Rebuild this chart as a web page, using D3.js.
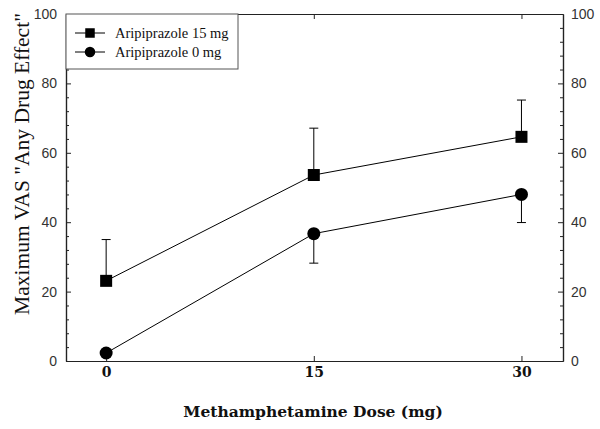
<!DOCTYPE html>
<html>
<head>
<meta charset="utf-8">
<script src="https://cdn.jsdelivr.net/npm/d3@7"></script>
<style>
  body { margin: 0; background: #fff; }
  svg { display: block; }
</style>
</head>
<body>
<svg id="chart" width="600" height="429"></svg>
<script>
// ---- data ----
const doses = [0, 15, 30];
const aripi15 = [23.1, 53.6, 64.6];
const aripi15Err = [11.9, 13.5, 10.6];
const aripi0 = [2.3, 36.7, 48.0];
const aripi0Err = [0, 8.5, 8.1];
const yMajorTicks = [0, 20, 40, 60, 80, 100];
const yMinorTicks = [4, 8, 12, 16, 24, 28, 32, 36, 44, 48, 52, 56, 64, 68, 72, 76, 84, 88, 92, 96];
const seriesNames = ["Aripiprazole 15 mg", "Aripiprazole 0 mg"];
const xTitle = "Methamphetamine Dose (mg)";
const yTitle = 'Maximum VAS "Any Drug Effect"';

// ---- layout ----
const L = 66, R = 563, T = 14, B = 361;
const svg = d3.select("#chart");
const x = d3.scaleLinear().domain([-2.9, 33]).range([L, R]);
const y = d3.scaleLinear().domain([0, 100]).range([B, T]);

const axisColor = "#222";
function styleAxis(g) {
  g.select(".domain").attr("stroke", axisColor).attr("stroke-width", 1.2);
  g.selectAll(".tick line").attr("stroke", axisColor).attr("stroke-width", 1);
}

// minor ticks
svg.append("g").attr("transform", `translate(${L},0)`)
  .call(d3.axisLeft(y).tickValues(yMinorTicks).tickSize(-3).tickSizeOuter(0).tickFormat(""))
  .call(styleAxis);
svg.append("g").attr("transform", `translate(${R},0)`)
  .call(d3.axisRight(y).tickValues(yMinorTicks).tickSize(-3).tickSizeOuter(0).tickFormat(""))
  .call(styleAxis);

// major y
const yl = svg.append("g").attr("transform", `translate(${L},0)`)
  .call(d3.axisLeft(y).tickValues(yMajorTicks).tickSize(-5).tickSizeOuter(0).tickPadding(9))
  .call(styleAxis);
const yr = svg.append("g").attr("transform", `translate(${R},0)`)
  .call(d3.axisRight(y).tickValues(yMajorTicks).tickSize(-5).tickSizeOuter(0).tickPadding(8))
  .call(styleAxis);
[yl, yr].forEach(g => g.selectAll(".tick text")
  .attr("font-family", "Liberation Sans, Arial, sans-serif")
  .attr("font-size", 14).attr("fill", "#333"));

// x axes
const xb = svg.append("g").attr("transform", `translate(0,${B})`)
  .call(d3.axisBottom(x).tickValues(doses).tickSize(-5).tickSizeOuter(0).tickPadding(6))
  .call(styleAxis);
xb.selectAll(".tick text")
  .attr("font-family", "DejaVu Serif, Georgia, serif")
  .attr("font-weight", "bold").attr("font-size", 14).attr("fill", "#111");
svg.append("g").attr("transform", `translate(0,${T})`)
  .call(d3.axisTop(x).tickValues(doses).tickSize(-5).tickSizeOuter(0).tickFormat(""))
  .call(styleAxis);

// titles
svg.append("text")
  .attr("x", 313).attr("y", 417)
  .attr("text-anchor", "middle")
  .attr("font-family", "DejaVu Serif, Georgia, serif")
  .attr("font-weight", "bold").attr("font-size", 15.5).attr("fill", "#111")
  .text(xTitle);
svg.append("text")
  .attr("transform", "translate(29,164) rotate(-90)")
  .attr("text-anchor", "middle")
  .attr("font-family", "Liberation Serif, Times New Roman, serif")
  .attr("font-size", 21.5).attr("fill", "#111")
  .text(yTitle);

// series
const series = [
  { name: seriesNames[0], vals: aripi15, err: aripi15Err, dir: 1, shape: "square" },
  { name: seriesNames[1], vals: aripi0, err: aripi0Err, dir: -1, shape: "circle" }
];
const line = d3.line().x(d => x(d[0])).y(d => y(d[1]));

function drawMarker(g, shape, cx, cy, size) {
  if (shape === "square") {
    g.append("rect").attr("x", cx - size / 2).attr("y", cy - size / 2)
      .attr("width", size).attr("height", size).attr("fill", "#000");
  } else {
    g.append("circle").attr("cx", cx).attr("cy", cy).attr("r", size / 2 + 0.5).attr("fill", "#000");
  }
}

series.forEach(s => {
  const pts = doses.map((d, i) => [d, s.vals[i]]);
  const g = svg.append("g");
  // error bars
  doses.forEach((d, i) => {
    if (s.err[i] <= 0) return;
    const end = s.vals[i] + s.dir * s.err[i];
    g.append("line").attr("x1", x(d)).attr("x2", x(d))
      .attr("y1", y(s.vals[i])).attr("y2", y(end))
      .attr("stroke", "#000").attr("stroke-width", 1);
    g.append("line").attr("x1", x(d) - 4.5).attr("x2", x(d) + 4.5)
      .attr("y1", y(end)).attr("y2", y(end))
      .attr("stroke", "#000").attr("stroke-width", 1);
  });
  g.append("path").datum(pts).attr("d", line)
    .attr("fill", "none").attr("stroke", "#000").attr("stroke-width", 1);
  pts.forEach(p => drawMarker(g, s.shape, x(p[0]), y(p[1]), 12));
});

// legend
const lg = svg.append("g");
lg.append("rect").attr("x", L).attr("y", T).attr("width", 172).attr("height", 55)
  .attr("fill", "#fff").attr("stroke", "#555").attr("stroke-width", 1);
series.forEach((s, i) => {
  const cy = 33 + i * 19;
  lg.append("line").attr("x1", 75).attr("x2", 105).attr("y1", cy).attr("y2", cy)
    .attr("stroke", "#000").attr("stroke-width", 1);
  drawMarker(lg, s.shape, 90, cy, 9.5);
  lg.append("text").attr("x", 115).attr("y", cy + 5)
    .attr("font-family", "Liberation Serif, Times New Roman, serif")
    .attr("font-size", 14.5).attr("fill", "#111")
    .text(s.name);
});
</script>
</body>
</html>
